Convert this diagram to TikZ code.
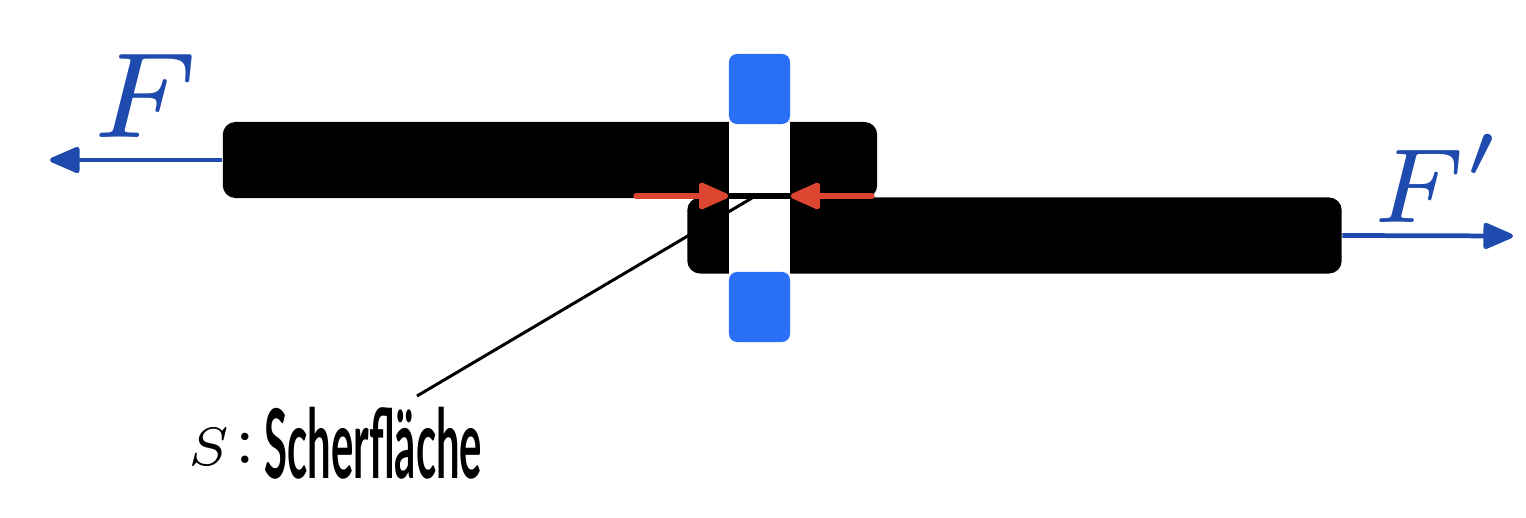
\documentclass[tikz,border=0pt]{standalone}
\usepackage{fontspec}
\usetikzlibrary{arrows.meta}
\newfontfamily\handfont{Lato Bold}
\definecolor{forceblue}{HTML}{1F4AAE}
\definecolor{rivetblue}{HTML}{2A6FF8}
\definecolor{stressred}{HTML}{DC4630}
\tikzset{
  plate/.style={fill=black,rounded corners=3.6pt,inner sep=0pt,minimum width=6.54cm,minimum height=.76cm},
  hole/.style={fill=white,inner sep=0pt,minimum width=.61cm,minimum height=1.52cm},
  rivet/.style={fill=rivetblue,rounded corners=2.3pt,inner sep=0pt,minimum width=.61cm,minimum height=.7cm},
  force/.style={draw=forceblue,fill=forceblue,line width=1.35pt,-{Triangle[round,length=9.5pt,width=7.8pt]}},
  press/.style={draw=stressred,fill=stressred,line width=1.5pt,line cap=round,-{Triangle[round,length=9.5pt,width=8pt]}},
  forcelabel/.style={text=forceblue,inner sep=0pt}
}
\begin{document}
\begin{tikzpicture}[x=.01cm,y=-.01cm]
\useasboundingbox (0,0) rectangle (1526,518);
% plates with the hole
\node[plate] (upper) at (550,160) {};
\node[plate] (lower) at (1014.5,235.5) {};
\node[hole] (bore) at (759.5,198) {};
% rivet
\node[rivet] (head) at (759.5,89) {};
\node[rivet] (foot) at (759.5,307) {};
\node[fill=black,inner sep=0pt,minimum width=.61cm,minimum height=.05cm] (shear) at (759.5,196) {};
% forces
\coordinate (fl) at (50,160);
\coordinate (fr) at (1513,236);
\draw[force] (upper.west) -- (fl);
\draw[force] (lower.east) -- (fr);
\node[forcelabel,scale=4.95] (fleft) at (145,96) {$\scriptstyle F$};
\node[forcelabel,scale=4.3,anchor=base west] (fright) at (1369,222) {$\scriptstyle F'$};
% arrows on the shear plane
\coordinate (al) at (636,196);
\coordinate (ar) at (872,196);
\draw[press] (al) -- (shear.west);
\draw[press] (ar) -- (shear.east);
% label
\coordinate (tip) at (752,198);
\coordinate (tail) at (417,396);
\draw[line width=.85pt] (tip) -- (tail);
\node[scale=2.2,inner sep=0pt] (s) at (209,447) {$\scriptstyle S$};
\node[scale=2,inner sep=0pt] (colon) at (245,448) {$:$};
\node[xscale=.85,yscale=1.95,inner sep=0pt,anchor=base west,font=\handfont\fontsize{14}{14}\selectfont] (name) at (264,478) {Scherfläche};
\end{tikzpicture}
\end{document}
